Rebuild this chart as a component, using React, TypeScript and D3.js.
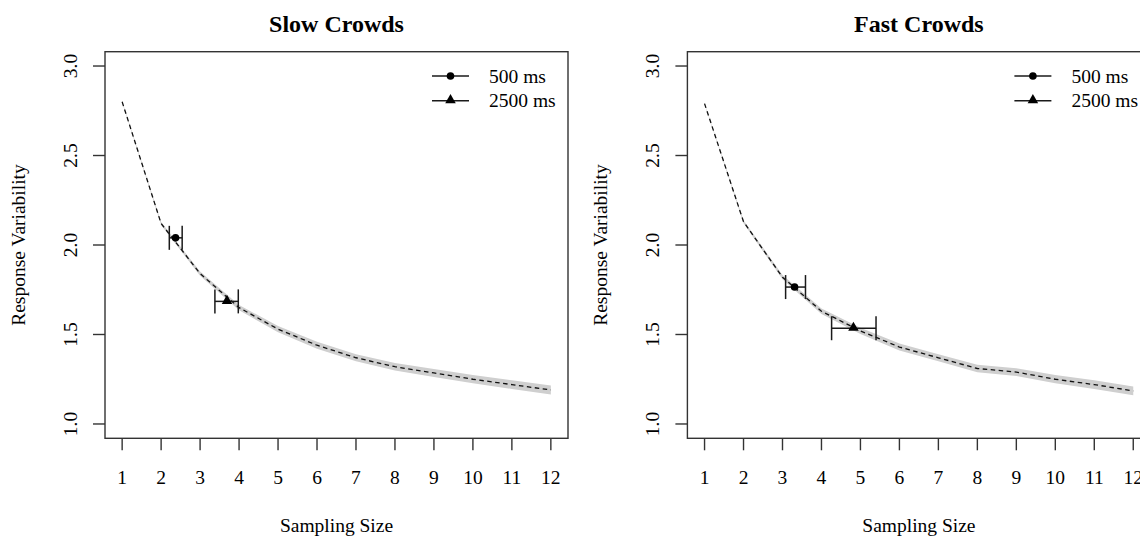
import React from "react";
import * as d3 from "d3";

const sizes = [1, 2, 3, 4, 5, 6, 7, 8, 9, 10, 11, 12];
const xTicks = [1, 2, 3, 4, 5, 6, 7, 8, 9, 10, 11, 12];
const yTicks = [1.0, 1.5, 2.0, 2.5, 3.0];

const slowMean = [2.80, 2.12, 1.84, 1.65, 1.53, 1.44, 1.37, 1.32, 1.285, 1.25, 1.22, 1.19];
const slowLow = [2.796, 2.112, 1.828, 1.635, 1.513, 1.421, 1.350, 1.299, 1.263, 1.227, 1.196, 1.165];
const slowHigh = [2.804, 2.128, 1.852, 1.665, 1.547, 1.459, 1.390, 1.341, 1.307, 1.273, 1.244, 1.215];

const fastMean = [2.79, 2.13, 1.82, 1.63, 1.52, 1.43, 1.37, 1.31, 1.29, 1.25, 1.22, 1.185];
const fastLow = [2.786, 2.122, 1.808, 1.615, 1.503, 1.411, 1.350, 1.289, 1.268, 1.227, 1.196, 1.160];
const fastHigh = [2.794, 2.138, 1.832, 1.645, 1.537, 1.449, 1.390, 1.331, 1.312, 1.273, 1.244, 1.210];

const durations = ["500 ms", "2500 ms"];
const slowPointX = [2.37, 3.69];
const slowPointLo = [2.21, 3.38];
const slowPointHi = [2.54, 3.98];
const slowPointY = [2.04, 1.685];

const fastPointX = [3.31, 4.82];
const fastPointLo = [3.08, 4.26];
const fastPointHi = [3.59, 5.40];
const fastPointY = [1.765, 1.535];

const FONT = "'Liberation Serif', 'Times New Roman', serif";
const INK = "#1a1a1a";

type PanelProps = {
  offsetX: number;
  title: string;
  mean: number[];
  low: number[];
  high: number[];
  px: number[];
  plo: number[];
  phi: number[];
  py: number[];
};

function Panel({ offsetX, title, mean, low, high, px, plo, phi, py }: PanelProps) {
  const left = 105;
  const right = 568;
  const top = 51.7;
  const bottom = 438.3;
  const x = d3.scaleLinear().domain([0.56, 12.44]).range([left, right]);
  const y = d3.scaleLinear().domain([0.92, 3.08]).range([bottom, top]);
  const cx = (left + right) / 2;

  const idx = sizes.map((_, i) => i);
  const area = d3
    .area<number>()
    .x((i) => x(sizes[i]))
    .y0((i) => y(low[i]))
    .y1((i) => y(high[i]));
  const line = d3
    .line<number>()
    .x((i) => x(sizes[i]))
    .y((i) => y(mean[i]));

  const tri = d3.symbol(d3.symbolTriangle, 48)();
  const legX1 = right - 136;
  const legX2 = right - 99;
  const legY = [76, 100.7];

  return (
    <g transform={`translate(${offsetX},0)`}>
      <text x={cx} y={31.5} textAnchor="middle" fontFamily={FONT} fontWeight="bold" fontSize={24} fill="#000">
        {title}
      </text>
      <path d={area(idx) || ""} fill="#cfcfcf" stroke="none" />
      <path d={line(idx) || ""} fill="none" stroke="#111" strokeWidth={1.3} strokeDasharray="4.5,3.5" />
      {px.map((v, i) => (
        <g key={i} stroke={INK} strokeWidth={1.5}>
          <line x1={x(plo[i])} x2={x(phi[i])} y1={y(py[i])} y2={y(py[i])} />
          <line x1={x(plo[i])} x2={x(plo[i])} y1={y(py[i]) - 12} y2={y(py[i]) + 12} />
          <line x1={x(phi[i])} x2={x(phi[i])} y1={y(py[i]) - 12} y2={y(py[i]) + 12} />
          {i === 0 ? (
            <circle cx={x(v)} cy={y(py[i])} r={3.8} fill="#000" stroke="none" />
          ) : (
            <path d={tri || ""} transform={`translate(${x(v)},${y(py[i]) - 0.5})`} fill="#000" stroke="none" />
          )}
        </g>
      ))}
      <rect x={left} y={top} width={right - left} height={bottom - top} fill="none" stroke="#333" strokeWidth={1.4} />
      {xTicks.map((t) => (
        <g key={t}>
          <line x1={x(t)} x2={x(t)} y1={bottom} y2={bottom + 12} stroke="#333" strokeWidth={1.4} />
          <text x={x(t)} y={484} textAnchor="middle" fontFamily={FONT} fontSize={19.5} fill="#000">
            {t}
          </text>
        </g>
      ))}
      {yTicks.map((t) => (
        <g key={t}>
          <line x1={left} x2={left - 12} y1={y(t)} y2={y(t)} stroke="#333" strokeWidth={1.4} />
          <text
            transform={`translate(77,${y(t)}) rotate(-90)`}
            textAnchor="middle"
            fontFamily={FONT}
            fontSize={19.5}
            fill="#000"
          >
            {t.toFixed(1)}
          </text>
        </g>
      ))}
      <text x={cx} y={532} textAnchor="middle" fontFamily={FONT} fontSize={19.5} fill="#000">
        Sampling Size
      </text>
      <text
        transform={`translate(25,${(top + bottom) / 2}) rotate(-90)`}
        textAnchor="middle"
        fontFamily={FONT}
        fontSize={19.5}
        fill="#000"
      >
        Response Variability
      </text>
      {durations.map((d, i) => (
        <g key={d}>
          <line x1={legX1} x2={legX2} y1={legY[i]} y2={legY[i]} stroke={INK} strokeWidth={1.4} />
          {i === 0 ? (
            <circle cx={(legX1 + legX2) / 2} cy={legY[i]} r={3.8} fill="#000" />
          ) : (
            <path d={tri || ""} transform={`translate(${(legX1 + legX2) / 2},${legY[i] - 0.5})`} fill="#000" />
          )}
          <text x={right - 79} y={legY[i] + 6.5} fontFamily={FONT} fontSize={19.5} fill="#000">
            {d}
          </text>
        </g>
      ))}
    </g>
  );
}

export default function App() {
  return (
    <svg
      width={1140}
      height={538}
      viewBox="0 0 1140 538"
      style={{ position: "absolute", left: 0, top: 0, background: "#fff" }}
    >
      <rect x={0} y={0} width={1140} height={538} fill="#fff" />
      <Panel
        offsetX={0}
        title="Slow Crowds"
        mean={slowMean}
        low={slowLow}
        high={slowHigh}
        px={slowPointX}
        plo={slowPointLo}
        phi={slowPointHi}
        py={slowPointY}
      />
      <Panel
        offsetX={582.4}
        title="Fast Crowds"
        mean={fastMean}
        low={fastLow}
        high={fastHigh}
        px={fastPointX}
        plo={fastPointLo}
        phi={fastPointHi}
        py={fastPointY}
      />
    </svg>
  );
}
